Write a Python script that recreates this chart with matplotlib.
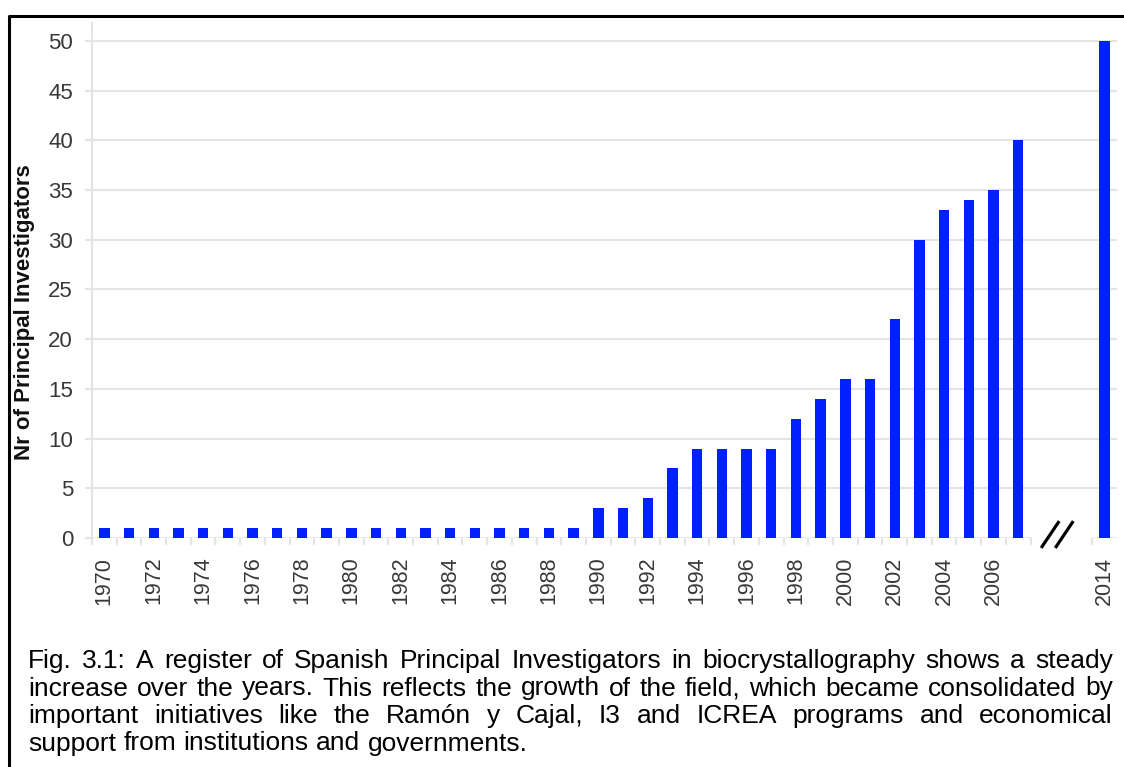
import matplotlib
matplotlib.use("Agg")
import matplotlib.pyplot as plt
from matplotlib.lines import Line2D
import numpy as np

plt.rcParams['font.family'] = ['Liberation Sans', 'DejaVu Sans']

years = list(range(1970, 2008)) + [2014]
values = [1] * 20 + [3, 3, 4, 7, 9, 9, 9, 9, 12, 14, 16, 16, 22, 30, 33, 34, 35, 40] + [50]
year_labels = [str(y) for y in range(1970, 2007, 2)] + ["2014"]
ylabel = "Nr of Principal Investigators"
caption_lines = [
    "Fig. 3.1: A register of Spanish Principal Investigators in biocrystallography shows a steady",
    "increase over the years. This reflects the growth of the field, which became consolidated by",
    "important initiatives like the Ramón y Cajal, I3 and ICREA programs and economical",
    "support from institutions and governments.",
]

W, H = 1124, 767
fig = plt.figure(figsize=(W / 100, H / 100), dpi=100)

# layout (pixels)
ax_left, ax_right, ax_top, ax_bottom = 92, 1117, 23, 538
ax = fig.add_axes([ax_left / W, 1 - ax_bottom / H, (ax_right - ax_left) / W, (ax_bottom - ax_top) / H])

gap_shift = 2.5
xpos = [i for i in range(len(years) - 1)] + [len(years) - 2 + 1 + gap_shift]
last_main = len(years) - 2
break_x = last_main + 0.93

bar_color = '#0020ff'
ax.bar(xpos, values, width=0.42, color=bar_color, zorder=3)

ax.set_xlim(-0.5, xpos[-1] + 0.5)
ax.set_ylim(0, 51.8)

grid_c = '#e4e4e4'
yt = list(range(5, 55, 5))
ax.hlines(yt, -0.5, xpos[-1] + 0.5, color=grid_c, lw=1.5, zorder=1)
ax.hlines([0, 0], [-0.5, xpos[-1] - 0.5], [last_main + 0.5, xpos[-1] + 0.5], color=grid_c, lw=1.8, zorder=2)

lab_c = '#383838'
ax.set_yticks([0] + yt)
ax.set_yticklabels([str(v) for v in [0] + yt], fontsize=16, color=lab_c)
ax.tick_params(axis='y', length=5, color=grid_c, width=1.5, pad=8.6)

lab_pos = [xpos[years.index(int(t))] for t in year_labels]
ax.set_xticks(lab_pos)
ax.set_xticklabels(year_labels, rotation=90, fontsize=15.5, color=lab_c)
ax.tick_params(axis='x', length=0, pad=13.5)
bounds = [i - 0.5 for i in range(last_main + 2)] + [xpos[-1] - 0.5]
ax.set_xticks(bounds, minor=True)
ax.tick_params(axis='x', which='minor', length=5, color=grid_c, width=1.5)

for s in ['top', 'right', 'bottom']:
    ax.spines[s].set_visible(False)
ax.spines['left'].set_color(grid_c)
ax.spines['left'].set_linewidth(1.5)

# break marker
for dx in [0, 0.57]:
    ax.plot([break_x + dx, break_x + dx + 0.73], [-1.0, 1.7], color='black', lw=2.3, clip_on=False, zorder=5, solid_capstyle='butt')

fig.text(25 / W, 1 - 312 / H, ylabel, rotation=90, fontsize=16, fontweight='bold', ha='center', va='center', color='#111111')

# outer frame
fig.add_artist(Line2D([8.5 / W, 8.5 / W, 1.0], [0.0, 1 - 15.5 / H, 1 - 15.5 / H], transform=fig.transFigure, color='black', lw=2.2))

# justified caption
fig.canvas.draw()
renderer = fig.canvas.get_renderer()
x0, x1 = 28, 1113
line_y = [668, 695.5, 723, 750.5]
fs = 19
sp = fig.text(0, 0, 'a b', fontsize=fs)
ab = fig.text(0, 0, 'ab', fontsize=fs)
space_w = sp.get_window_extent(renderer).width - ab.get_window_extent(renderer).width
sp.remove(); ab.remove()
for li, (line, yy) in enumerate(zip(caption_lines, line_y)):
    words = line.split(' ')
    texts = [fig.text(0, 1 - yy / H, w, fontsize=fs, va='baseline', ha='left', color='black') for w in words]
    widths = [t.get_window_extent(renderer).width for t in texts]
    if li < len(caption_lines) - 1:
        gap = (x1 - x0 - sum(widths)) / (len(words) - 1)
    else:
        gap = space_w
    cx = x0
    for t, w in zip(texts, widths):
        t.set_x(cx / W)
        cx += w + gap

fig.savefig('out.png', dpi=100)
